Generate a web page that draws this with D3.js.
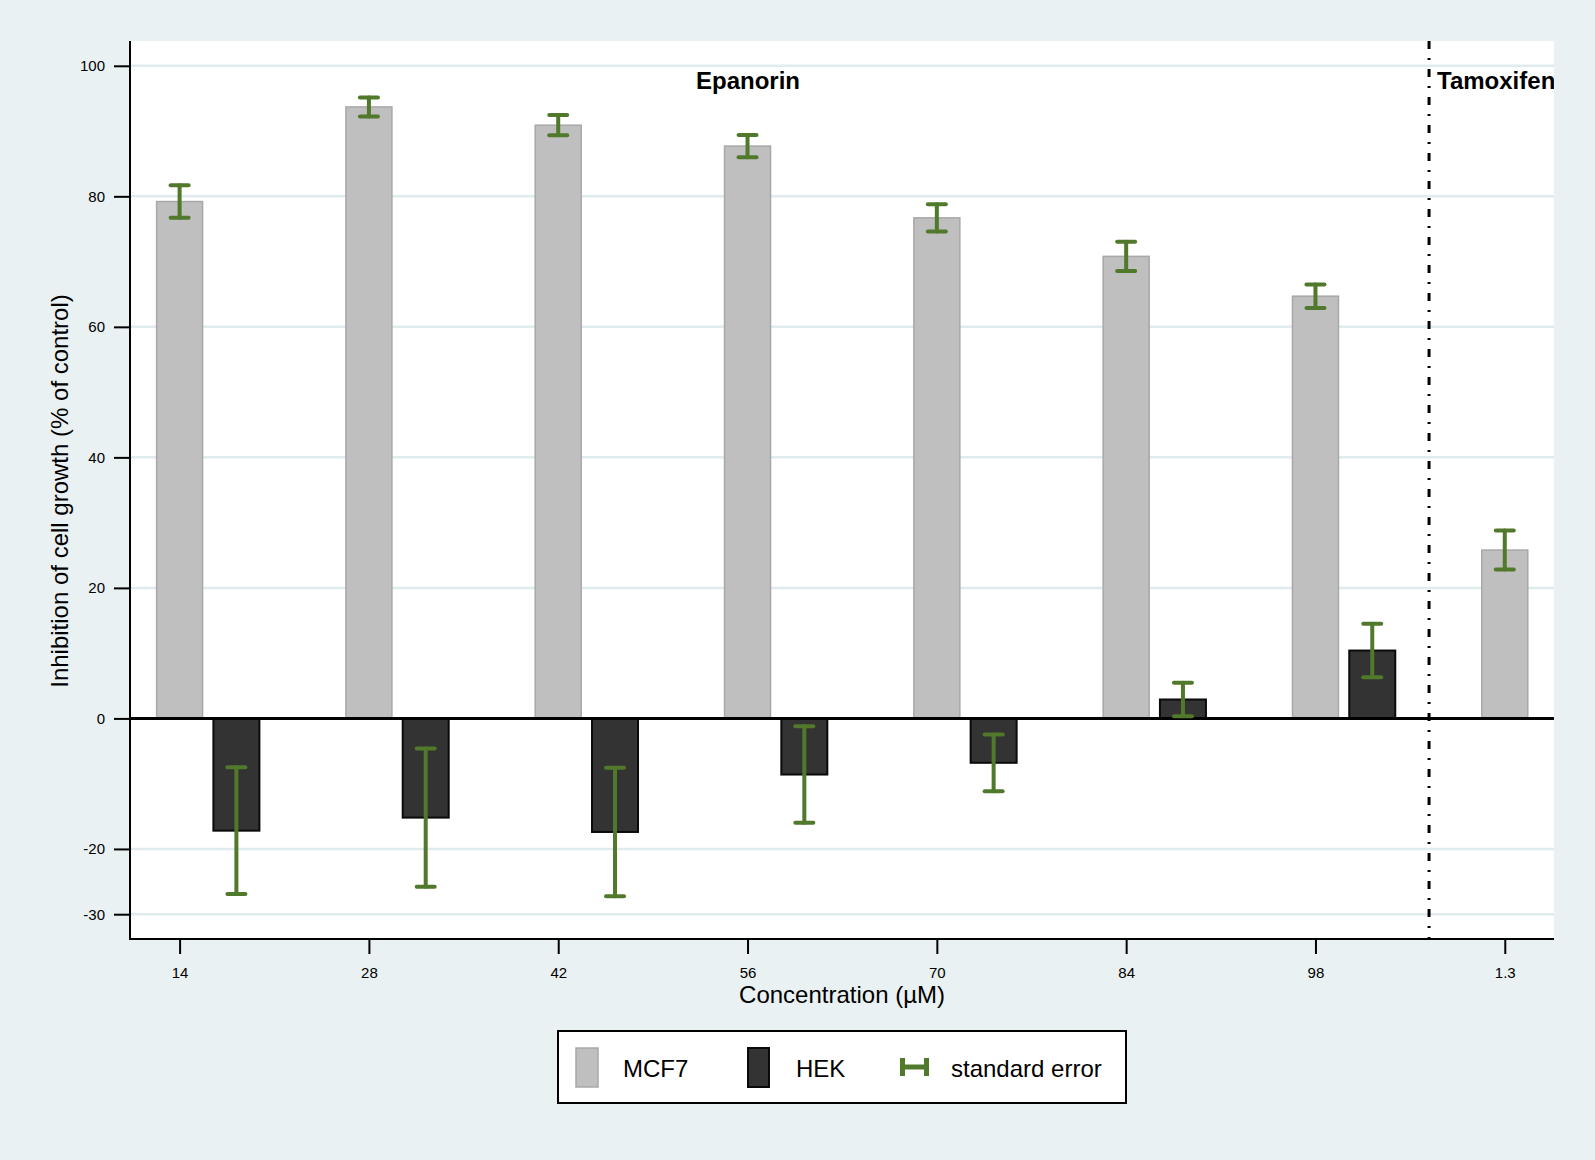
<!DOCTYPE html>
<html>
<head>
<meta charset="utf-8">
<script src="https://cdn.jsdelivr.net/npm/d3@7/dist/d3.min.js"></script>
<style>
  html, body { margin: 0; padding: 0; background: #E9F1F2; }
  svg { display: block; font-family: "Liberation Sans", Arial, sans-serif; }
</style>
</head>
<body>
<svg id="chart" width="1595" height="1160"></svg>
<script>
// ---- Data ----
const categories = ["14", "28", "42", "56", "70", "84", "98", "1.3"];
const mcf7 = [79.2, 93.7, 90.9, 87.7, 76.7, 70.8, 64.7, 25.8];
const mcf7SE = [2.5, 1.45, 1.55, 1.7, 2.1, 2.25, 1.8, 3.0];
const hek = [-17.2, -15.2, -17.4, -8.6, -6.8, 2.9, 10.4, null];
const hekSE = [9.7, 10.6, 9.85, 7.4, 4.35, 2.55, 4.1, null];
const yTicks = [100, 80, 60, 40, 20, 0, -20, -30];
const groupLabels = ["Epanorin", "Tamoxifen"];
const legendLabels = ["MCF7", "HEK", "standard error"];

// ---- Layout ----
const svg = d3.select("#chart");
const W = 1595, H = 1160;
const plot = { left: 130, right: 1554, top: 41, bottom: 939 };
const col = {
  bg: "#E9F1F2", grid: "#E0EBED", mcf7: "#BFBFBF", mcf7Stroke: "#A8A8A8",
  hek: "#333333", hekStroke: "#0A0A0A", err: "#51792B"
};

svg.append("rect").attr("width", W).attr("height", H).attr("fill", col.bg);

const x = d3.scaleLinear().domain([0.738, 8.26]).range([plot.left, plot.right]);
const y = d3.scaleLinear().domain([-33.8, 103.8]).range([plot.bottom, plot.top]);
const bw = 0.243;      // bar width in category units
const hekOff = 0.3;    // HEK offset in category units
const sepPos = 7.6;    // separator position

svg.append("defs").append("clipPath").attr("id", "plotclip")
  .append("rect").attr("x", plot.left).attr("y", plot.top)
  .attr("width", plot.right - plot.left).attr("height", plot.bottom - plot.top);

svg.append("rect").attr("x", plot.left).attr("y", plot.top)
  .attr("width", plot.right - plot.left).attr("height", plot.bottom - plot.top)
  .attr("fill", "#FFFFFF");

// gridlines
svg.append("g").selectAll("line").data(yTicks.filter(d => d !== 0)).join("line")
  .attr("x1", plot.left).attr("x2", plot.right)
  .attr("y1", d => y(d)).attr("y2", d => y(d))
  .attr("stroke", col.grid).attr("stroke-width", 2.5);

const idx = categories.map((c, i) => i + 1);

// MCF7 bars
svg.append("g").selectAll("rect").data(idx).join("rect")
  .attr("x", i => x(i - bw / 2))
  .attr("width", x(bw) - x(0))
  .attr("y", i => y(Math.max(0, mcf7[i - 1])))
  .attr("height", i => Math.abs(y(mcf7[i - 1]) - y(0)))
  .attr("fill", col.mcf7).attr("stroke", col.mcf7Stroke).attr("stroke-width", 1.5);

// HEK bars
const hekIdx = idx.filter(i => hek[i - 1] !== null);
svg.append("g").selectAll("rect").data(hekIdx).join("rect")
  .attr("x", i => x(i + hekOff - bw / 2))
  .attr("width", x(bw) - x(0))
  .attr("y", i => y(Math.max(0, hek[i - 1])))
  .attr("height", i => Math.abs(y(hek[i - 1]) - y(0)))
  .attr("fill", col.hek).attr("stroke", col.hekStroke).attr("stroke-width", 2);

// zero line
svg.append("line").attr("x1", plot.left).attr("x2", plot.right)
  .attr("y1", y(0)).attr("y2", y(0)).attr("stroke", "#000").attr("stroke-width", 3);

// separator dash-dot line
svg.append("line").attr("x1", x(sepPos)).attr("x2", x(sepPos))
  .attr("y1", plot.top).attr("y2", plot.bottom)
  .attr("stroke", "#000").attr("stroke-width", 3)
  .attr("stroke-dasharray", "8,9,2,9");

// error bars
function errorBars(vals, ses, off) {
  const g = svg.append("g").attr("stroke", col.err).attr("stroke-width", 4)
    .attr("stroke-linecap", "round").attr("fill", "none");
  const data = idx.filter(i => vals[i - 1] !== null);
  const cx = i => x(i + off);
  g.selectAll(".v").data(data).join("line")
    .attr("x1", cx).attr("x2", cx)
    .attr("y1", i => y(vals[i - 1] + ses[i - 1]))
    .attr("y2", i => y(vals[i - 1] - ses[i - 1]));
  [1, -1].forEach(s => {
    g.append("g").selectAll("line").data(data).join("line")
      .attr("x1", i => cx(i) - 9).attr("x2", i => cx(i) + 9)
      .attr("y1", i => y(vals[i - 1] + s * ses[i - 1]))
      .attr("y2", i => y(vals[i - 1] + s * ses[i - 1]));
  });
}
errorBars(mcf7, mcf7SE, 0);
errorBars(hek, hekSE, hekOff);

// axes
const yAxis = d3.axisLeft(y).tickValues(yTicks).tickSize(16).tickPadding(9)
  .tickFormat(d => String(d));
const gy = svg.append("g").attr("transform", `translate(${plot.left},0)`).call(yAxis);
gy.select(".domain").remove();
gy.selectAll(".tick line").attr("stroke", "#000").attr("stroke-width", 2);
gy.selectAll(".tick text").attr("font-size", 15).attr("fill", "#000")
  .attr("font-family", "'Liberation Sans', Arial, sans-serif");
svg.append("line").attr("x1", plot.left).attr("x2", plot.left)
  .attr("y1", plot.top).attr("y2", plot.bottom + 1).attr("stroke", "#000").attr("stroke-width", 2);

const xAxis = d3.axisBottom(x).tickValues(idx).tickSize(15).tickPadding(13)
  .tickFormat(i => categories[i - 1]);
const gx = svg.append("g").attr("transform", `translate(0,${plot.bottom})`).call(xAxis);
gx.select(".domain").remove();
gx.selectAll(".tick line").attr("stroke", "#000").attr("stroke-width", 2);
gx.selectAll(".tick text").attr("font-size", 15).attr("fill", "#000")
  .attr("font-family", "'Liberation Sans', Arial, sans-serif");
svg.append("line").attr("x1", plot.left - 1).attr("x2", plot.right)
  .attr("y1", plot.bottom).attr("y2", plot.bottom).attr("stroke", "#000").attr("stroke-width", 2);

// group labels
svg.append("text").attr("x", 748).attr("y", 89).attr("text-anchor", "middle")
  .attr("font-size", 24).attr("font-weight", "bold").text(groupLabels[0]);
svg.append("text").attr("x", x(sepPos) + 8).attr("y", 89).attr("clip-path", "url(#plotclip)")
  .attr("font-size", 24).attr("font-weight", "bold").text(groupLabels[1]);

// axis titles
svg.append("text").attr("transform", "translate(68,491) rotate(-90)")
  .attr("text-anchor", "middle").attr("font-size", 24)
  .text("Inhibition of cell growth (% of control)");
svg.append("text").attr("x", 842).attr("y", 1003).attr("text-anchor", "middle")
  .attr("font-size", 24).text("Concentration (µM)");

// legend
const lg = svg.append("g");
lg.append("rect").attr("x", 558).attr("y", 1031).attr("width", 568).attr("height", 72)
  .attr("fill", "#fff").attr("stroke", "#000").attr("stroke-width", 2);
lg.append("rect").attr("x", 576).attr("y", 1048).attr("width", 22).attr("height", 39)
  .attr("fill", col.mcf7).attr("stroke", col.mcf7Stroke).attr("stroke-width", 1.5);
lg.append("rect").attr("x", 748).attr("y", 1048).attr("width", 21).attr("height", 39)
  .attr("fill", col.hek).attr("stroke", col.hekStroke).attr("stroke-width", 2);
const se = lg.append("g").attr("stroke", col.err).attr("stroke-width", 5);
se.append("line").attr("x1", 902).attr("x2", 927).attr("y1", 1067).attr("y2", 1067);
se.append("line").attr("x1", 902.5).attr("x2", 902.5).attr("y1", 1058).attr("y2", 1076);
se.append("line").attr("x1", 926.5).attr("x2", 926.5).attr("y1", 1058).attr("y2", 1076);
const lx = [623, 796, 951];
lg.selectAll("text.l").data(legendLabels).join("text")
  .attr("x", (d, i) => lx[i]).attr("y", 1077).attr("font-size", 24).text(d => d);
</script>
</body>
</html>
